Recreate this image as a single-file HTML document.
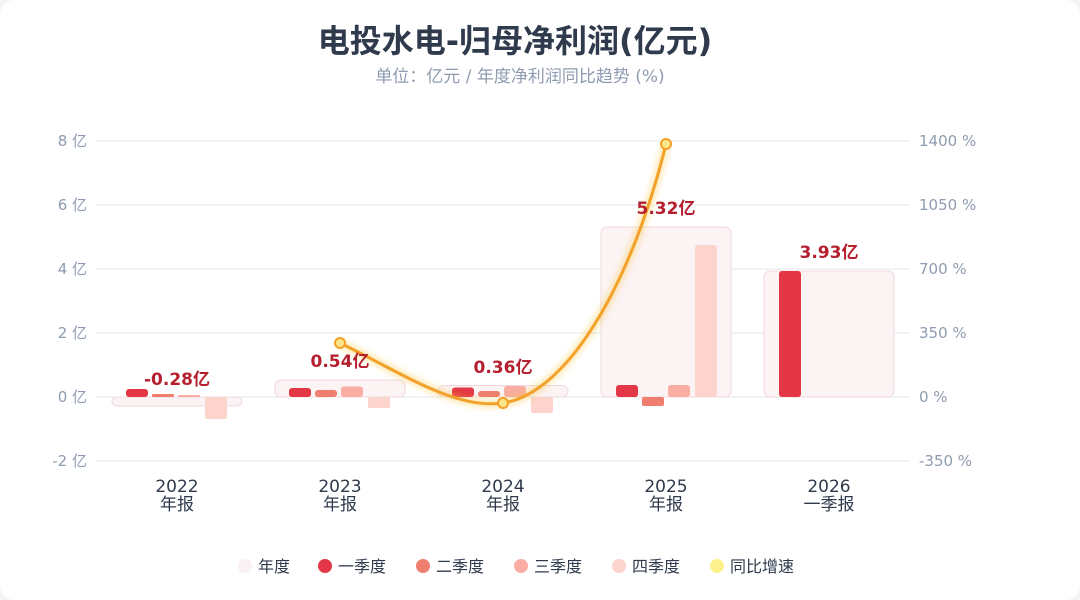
<!DOCTYPE html>
<html><head><meta charset="utf-8"><style>
html,body{margin:0;padding:0;background:#f3f4f6;}
.card{position:relative;width:1080px;height:600px;background:#fff;border-radius:14px;overflow:hidden;font-family:"DejaVu Sans","Noto Sans CJK SC",sans-serif;}
</style></head><body><div class="card">
<svg width="1080" height="600" xmlns="http://www.w3.org/2000/svg" font-family="DejaVu Sans, Noto Sans CJK SC, sans-serif">
<defs><filter id="gl" x="-20%" y="-20%" width="140%" height="140%"><feGaussianBlur stdDeviation="3"/></filter></defs>
<text x="515" y="52" text-anchor="middle" font-size="32" font-weight="bold" fill="#2f3a4c">电投水电-归母净利润(亿元)</text>
<text x="520" y="82" text-anchor="middle" font-size="17" fill="#8e9bb0">单位：亿元 / 年度净利润同比趋势 (%)</text>
<g stroke="#e5e7eb" stroke-width="1">
<line x1="95" x2="910" y1="141" y2="141"/><line x1="95" x2="910" y1="205" y2="205"/><line x1="95" x2="910" y1="269" y2="269"/><line x1="95" x2="910" y1="333" y2="333"/><line x1="95" x2="910" y1="397" y2="397"/><line x1="95" x2="910" y1="461" y2="461"/>
</g>
<g font-size="15" fill="#8e9bb0" text-anchor="end">
<text x="87" y="146">8 亿</text><text x="87" y="210">6 亿</text><text x="87" y="274">4 亿</text><text x="87" y="338">2 亿</text><text x="87" y="402">0 亿</text><text x="87" y="466">-2 亿</text>
</g>
<g font-size="15" fill="#8e9bb0">
<text x="919" y="146">1400 %</text><text x="919" y="210">1050 %</text><text x="919" y="274">700 %</text><text x="919" y="338">350 %</text><text x="919" y="402">0 %</text><text x="919" y="466">-350 %</text>
</g>
<g fill="#fbf3f4" stroke="#f0d8dc" stroke-width="1">
<rect x="112" y="397" width="130" height="9" rx="6"/>
<rect x="275" y="380" width="130" height="17" rx="6"/>
<rect x="438" y="385.5" width="130" height="11.5" rx="6"/>
<rect x="601" y="227" width="130" height="170" rx="6"/>
<rect x="764" y="271" width="130" height="126" rx="6"/>
</g>
<g>
<rect x="126" y="389" width="22" height="8" rx="3" fill="#e33747"/><rect x="152" y="394" width="22" height="3" rx="1" fill="#f07e6e"/><rect x="178" y="395" width="22" height="2" rx="1" fill="#f9ada3"/><rect x="205" y="397" width="22" height="22" rx="2" fill="#fdd3cd"/>
<rect x="289" y="388" width="22" height="9" rx="3" fill="#e33747"/><rect x="315" y="390" width="22" height="7" rx="3" fill="#f07e6e"/><rect x="341" y="386.5" width="22" height="10.5" rx="3" fill="#f9ada3"/><rect x="368" y="397" width="22" height="11" rx="2" fill="#fdd3cd"/>
<rect x="452" y="387.5" width="22" height="9.5" rx="3" fill="#e33747"/><rect x="478" y="391" width="22" height="6" rx="3" fill="#f07e6e"/><rect x="504" y="386" width="22" height="11" rx="3" fill="#f9ada3"/><rect x="531" y="397" width="22" height="16" rx="2" fill="#fdd3cd"/>
<rect x="616" y="385" width="22" height="12" rx="3" fill="#e33747"/><rect x="642" y="397" width="22" height="9" rx="2" fill="#f07e6e"/><rect x="668" y="385" width="22" height="12" rx="3" fill="#f9ada3"/><rect x="695" y="245" width="22" height="152" rx="3" fill="#fdd3cd"/>
<rect x="779" y="271" width="22" height="126" rx="3" fill="#e33747"/>
</g>
<path d="M340,343 C400,372 455,410 503,403 C565,394 630,290 666,144" fill="none" stroke="#fbbf24" stroke-width="8" opacity="0.35" filter="url(#gl)"/>
<path d="M340,343 C400,372 455,410 503,403 C565,394 630,290 666,144" fill="none" stroke="#f2a12a" stroke-width="3"/>
<g fill="#fde68a" stroke="#f2a12a" stroke-width="2"><circle cx="340" cy="343" r="5"/><circle cx="503" cy="403" r="5"/><circle cx="666" cy="144" r="5"/></g>
<g font-size="17" font-weight="bold" fill="#b51f2e" text-anchor="middle">
<text x="177" y="385">-0.28亿</text><text x="340" y="367">0.54亿</text><text x="503" y="373">0.36亿</text><text x="666" y="214">5.32亿</text><text x="829" y="258">3.93亿</text>
</g>
<g font-size="17" fill="#2f3a4c" text-anchor="middle">
<text x="177" y="492">2022</text><text x="177" y="510">年报</text>
<text x="340" y="492">2023</text><text x="340" y="510">年报</text>
<text x="503" y="492">2024</text><text x="503" y="510">年报</text>
<text x="666" y="492">2025</text><text x="666" y="510">年报</text>
<text x="829" y="492">2026</text><text x="829" y="510">一季报</text>
</g>
<g font-size="16" fill="#2f3a4c">
<circle cx="245" cy="566" r="7" fill="#fbf0f2"/><text x="258" y="572">年度</text>
<circle cx="325" cy="566" r="7" fill="#e33747"/><text x="338" y="572">一季度</text>
<circle cx="423" cy="566" r="7" fill="#f07e6e"/><text x="436" y="572">二季度</text>
<circle cx="521" cy="566" r="7" fill="#f9ada3"/><text x="534" y="572">三季度</text>
<circle cx="619" cy="566" r="7" fill="#fdd3cd"/><text x="632" y="572">四季度</text>
<circle cx="717" cy="566" r="7" fill="#fdf08a"/><text x="730" y="572">同比增速</text>
</g>
</svg>
</div></body></html>
